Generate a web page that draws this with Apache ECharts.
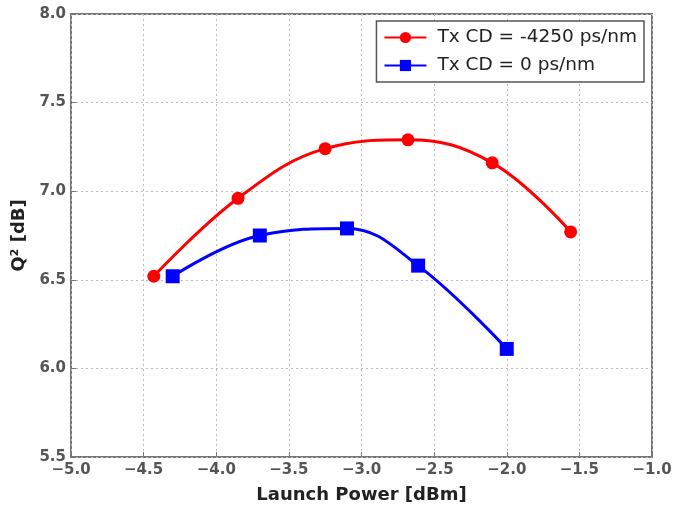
<!DOCTYPE html>
<html>
<head>
<meta charset="utf-8">
<script src="https://cdn.jsdelivr.net/npm/echarts@6/dist/echarts.min.js"></script>
<style>html,body{margin:0;padding:0;background:#fff}#c{width:675px;height:509px}</style>
</head>
<body>
<div id="c"></div>
<script>
const redName = 'Tx CD = -4250 ps/nm';
const blueName = 'Tx CD = 0 ps/nm';
const redX = [-4.43, -3.85, -3.25, -2.68, -2.10, -1.56];
const redY = [6.52, 6.96, 7.24, 7.29, 7.16, 6.77];
const blueX = [-4.30, -3.70, -3.10, -2.61, -2.00];
const blueY = [6.52, 6.75, 6.79, 6.58, 6.11];
const xTicks = [-5.0, -4.5, -4.0, -3.5, -3.0, -2.5, -2.0, -1.5, -1.0];
const yTicks = [5.5, 6.0, 6.5, 7.0, 7.5, 8.0];

const fmt = v => (v < 0 ? '\u2212' : '') + Math.abs(v).toFixed(1);
const chart = echarts.init(document.getElementById('c'));
const font = 'DejaVu Sans';
chart.setOption({
  animation: false,
  grid: {left: 71, right: 23, top: 14, bottom: 47, show: true, borderColor: '#777', borderWidth: 2},
  legend: {
    right: 31, top: 21, orient: 'vertical', padding: [7, 7, 7, 7],
    borderColor: '#555', borderWidth: 1.5, backgroundColor: '#fff',
    itemWidth: 42, itemHeight: 14, itemGap: 9,
    textStyle: {fontFamily: font, fontSize: 18.5, color: '#222', padding: [0, 0, 0, 6]},
    data: [redName, blueName]
  },
  xAxis: {
    type: 'value', min: -5, max: -1, interval: 0.5,
    name: 'Launch Power [dBm]', nameLocation: 'middle', nameGap: 29,
    nameTextStyle: {fontFamily: font, fontSize: 18, fontWeight: 'bold', color: '#222'},
    axisLine: {show: false},
    axisTick: {show: true, inside: true, length: 5, lineStyle: {color: '#777'}},
    axisLabel: {formatter: fmt, fontFamily: font, fontSize: 15, fontWeight: 'bold', color: '#555', margin: 6},
    splitLine: {show: true, lineStyle: {color: '#bbb', type: [2, 3], width: 1}}
  },
  yAxis: {
    type: 'value', min: 5.5, max: 8.0, interval: 0.5,
    name: 'Q\u00b2 [dB]', nameLocation: 'middle', nameGap: 38,
    nameTextStyle: {fontFamily: font, fontSize: 18, fontWeight: 'bold', color: '#222'},
    axisLine: {show: false},
    axisTick: {show: true, inside: true, length: 5, lineStyle: {color: '#777'}},
    axisLabel: {formatter: v => v.toFixed(1), fontFamily: font, fontSize: 15, fontWeight: 'bold', color: '#555', margin: 5},
    splitLine: {show: true, lineStyle: {color: '#bbb', type: [2, 3], width: 1}}
  },
  series: [
    {
      name: redName, type: 'line', smooth: 0.4,
      data: redX.map((x, i) => [x, redY[i]]),
      symbol: 'circle', symbolSize: 13,
      lineStyle: {color: '#ff0000', width: 3},
      itemStyle: {color: '#ff0000'}
    },
    {
      name: blueName, type: 'line', smooth: 0.4,
      data: blueX.map((x, i) => [x, blueY[i]]),
      symbol: 'rect', symbolSize: 14,
      lineStyle: {color: '#0000ff', width: 3},
      itemStyle: {color: '#0000ff'}
    }
  ]
});
</script>
</body>
</html>
